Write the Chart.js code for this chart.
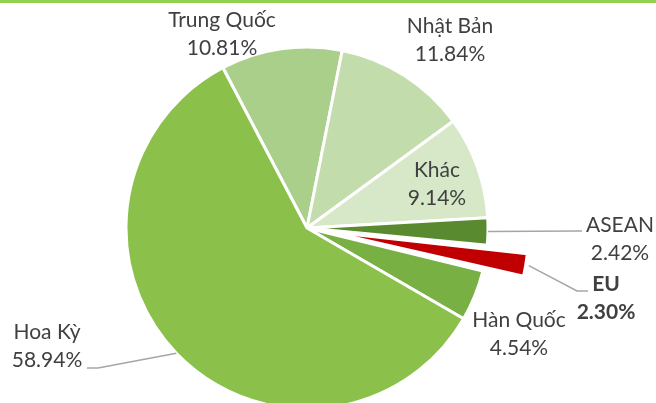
<!DOCTYPE html>
<html>
<head>
<meta charset="utf-8">
<script src="https://cdn.jsdelivr.net/npm/chart.js@4/dist/chart.umd.min.js"></script>
<style>
    html, body { margin: 0; padding: 0; background: #ffffff; }
    #wrap { position: relative; width: 656px; height: 403px; }
    #topLine { position: absolute; left: 0; top: 0; width: 656px; height: 3px; background: #92d050; }
</style>
</head>
<body>
<div id="wrap">
    <div id="topLine"></div>
    <canvas id="pieChart" width="656" height="403"></canvas>
</div>
<script>
// Export share by market (%)
const markets = ['Trung Quốc', 'Nhật Bản', 'Khác', 'ASEAN', 'EU', 'Hàn Quốc', 'Hoa Kỳ'];
const shares = [10.81, 11.84, 9.14, 2.42, 2.30, 4.54, 58.94];
const shareLabels = ['10.81%', '11.84%', '9.14%', '2.42%', '2.30%', '4.54%', '58.94%'];

const sliceColors = ['#a9cf8a', '#c3dcab', '#d6e8c8', '#5a8a2f', '#c00000', '#78b044', '#8bc14a'];
// Chart.js v4 moves a slice out by about offset / 2
const sliceOffsets = [0, 0, 0, 0, 88, 0, 0];

// where each label sits (text centre) and its leader line, if any
const labelLayout = [
    { x: 222, y: 20, line: null },
    { x: 450, y: 26, line: null },
    { x: 437, y: 170, line: null },
    { x: 620, y: 225, line: [[582, 231]] },
    { x: 606, y: 284, bold: true, line: [[577, 291], [588, 291]] },
    { x: 519, y: 320, line: null },
    { x: 47, y: 332, line: [[98, 368], [87, 368]] }
];

const labelPlugin = {
    id: 'sliceLabels',
    afterDatasetsDraw(chart) {
        const ctx = chart.ctx;
        const arcs = chart.getDatasetMeta(0).data;
        ctx.save();
        arcs.forEach((arc, i) => {
            const lay = labelLayout[i];
            // leader line from the outer edge of the slice
            if (lay.line) {
                const p = arc.getProps(['x', 'y', 'startAngle', 'endAngle', 'outerRadius']);
                const mid = (p.startAngle + p.endAngle) / 2;
                const r = p.outerRadius + sliceOffsets[i] / 2;
                ctx.beginPath();
                ctx.moveTo(p.x + Math.cos(mid) * r, p.y + Math.sin(mid) * r);
                lay.line.forEach(pt => ctx.lineTo(pt[0], pt[1]));
                ctx.strokeStyle = '#a6a6a6';
                ctx.lineWidth = 1.5;
                ctx.stroke();
            }
            ctx.fillStyle = '#404040';
            ctx.textAlign = 'center';
            ctx.textBaseline = 'middle';
            ctx.font = (lay.bold ? 'bold ' : '') + '21px Lato, "Open Sans", sans-serif';
            ctx.fillText(markets[i], lay.x, lay.y);
            ctx.fillText(shareLabels[i], lay.x, lay.y + 28);
        });
        ctx.restore();
    }
};

function initChart() {
    let ctx = document.getElementById('pieChart').getContext('2d');
    new Chart(ctx, {
        type: 'pie',
        data: {
            labels: markets,
            datasets: [{
                data: shares,
                backgroundColor: sliceColors,
                borderColor: '#ffffff',
                borderWidth: 3,
                offset: sliceOffsets,
                clip: false
            }]
        },
        options: {
            responsive: false,
            animation: false,
            rotation: -27.7,
            radius: 181,
            layout: {
                padding: { left: 0, right: 42, top: 53, bottom: 0 }
            },
            plugins: {
                legend: { display: false },
                tooltip: { enabled: false }
            }
        },
        plugins: [labelPlugin]
    });
}

window.onload = initChart;
</script>
</body>
</html>
